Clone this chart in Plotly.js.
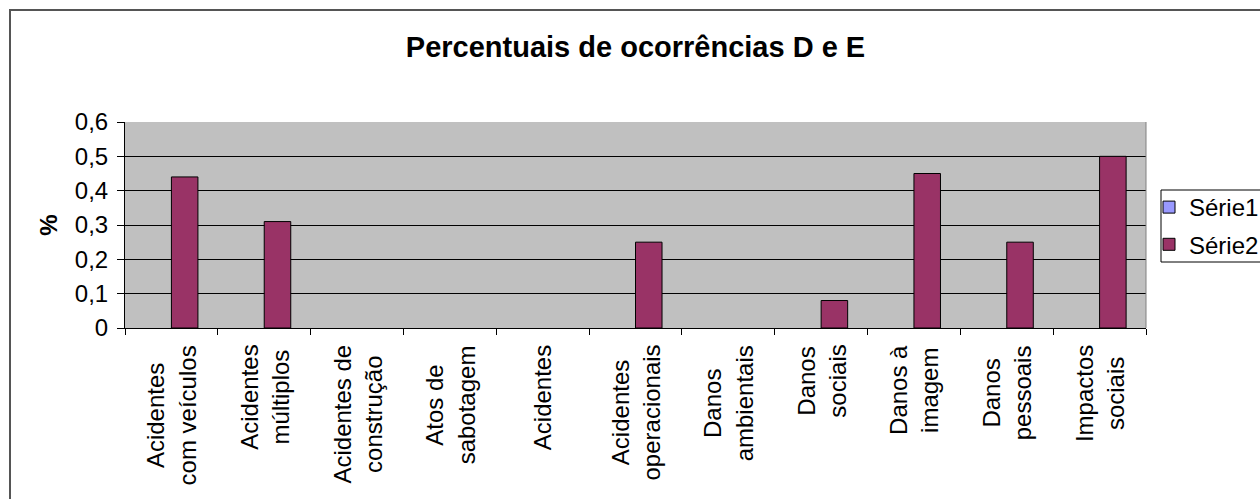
<!DOCTYPE html>
<html>
<head>
<meta charset="utf-8">
<script src="https://cdn.plot.ly/plotly-3.0.1.min.js"></script>
<style>
  html, body { margin: 0; padding: 0; background: #ffffff; }
  #chart { width: 1260px; height: 499px; }
</style>
</head>
<body>
<div id="chart"></div>
<script>
// ---- data ----
const categories = [
  "Acidentes com veículos",
  "Acidentes múltiplos",
  "Acidentes de construção",
  "Atos de sabotagem",
  "Acidentes",
  "Acidentes operacionais",
  "Danos ambientais",
  "Danos sociais",
  "Danos à imagem",
  "Danos pessoais",
  "Impactos sociais"
];
const categoryLabels = [
  "Acidentes<br>com veículos",
  "Acidentes<br>múltiplos",
  "Acidentes de<br>construção",
  "Atos de<br>sabotagem",
  "Acidentes",
  "Acidentes<br>operacionais",
  "Danos<br>ambientais",
  "Danos<br>sociais",
  "Danos à<br>imagem",
  "Danos<br>pessoais",
  "Impactos<br>sociais"
];
// Série1 has no values in the chart (blank cells)
const serie1 = [null, null, null, null, null, null, null, null, null, null, null];
const serie2 = [0.44, 0.31, 0, 0, 0, 0.25, 0, 0.08, 0.45, 0.25, 0.5];
const seriesNames = ["Série1", "Série2"];
const chartTitle = "Percentuais de ocorrências D e E";
const yAxisTitle = "%";

// ---- layout helpers (pixel -> paper) ----
const W = 1260, H = 499;
const M = { l: 125, r: 114, t: 122, b: 171, autoexpand: false };
const PW = W - M.l - M.r, PH = H - M.t - M.b;
const px = x => (x - M.l) / PW;
const py = y => (H - M.b - y) / PH;

const FONT = "Liberation Sans, Arial, sans-serif";
// outline only on bars that have a height (empty bars draw nothing, as in Excel)
const outline = vals => vals.map(v => (v > 0 ? 1 : 0));

const traces = [
  {
    type: "bar", name: seriesNames[0], x: categories, y: serie1,
    legendgroup: "s1",
    marker: { color: "#9999FF", line: { color: "#000000", width: 1 } },
    hoverinfo: "x+y"
  },
  {
    type: "bar", name: seriesNames[1], x: categories, y: serie2,
    legendgroup: "s2",
    marker: { color: "#993366", line: { color: "#000000", width: outline(serie2) } },
    hoverinfo: "x+y"
  }
];

const annotations = categories.map((c, i) => ({
  x: c, xref: "x",
  y: py(343), yref: "paper",
  xanchor: "center", yanchor: "top",
  text: categoryLabels[i],
  textangle: -90,
  align: "center",
  showarrow: false,
  font: { family: FONT, size: 24, color: "#000000" }
}));

const layout = {
  width: W, height: H,
  margin: M,
  paper_bgcolor: "#ffffff",
  plot_bgcolor: "#C0C0C0",
  separators: ",.",
  font: { family: FONT, size: 24, color: "#000000" },
  title: {
    text: "<b>" + chartTitle + "</b>",
    font: { family: FONT, size: 29, color: "#000000" },
    x: 0.5, xref: "paper", xanchor: "center",
    y: 1 - 47 / H, yref: "container", yanchor: "middle"
  },
  barmode: "group",
  bargap: 1.5 / 3.5,
  bargroupgap: 0,
  xaxis: {
    type: "category",
    categoryorder: "array", categoryarray: categories,
    showticklabels: false,
    tickson: "boundaries",
    ticks: "outside", ticklen: 6, tickcolor: "#000000", tickwidth: 1,
    showline: true, linecolor: "#000000", linewidth: 1,
    showgrid: false, zeroline: false,
    fixedrange: true
  },
  yaxis: {
    range: [0, 0.6], dtick: 0.1, tick0: 0,
    ticks: "outside", ticklen: 7, tickcolor: "#000000", tickwidth: 1,
    ticklabelstandoff: 4,
    tickfont: { family: FONT, size: 24, color: "#000000" },
    showline: true, linecolor: "#000000", linewidth: 1,
    showgrid: true, gridcolor: "#000000", gridwidth: 1,
    zeroline: false,
    title: {
      text: "<b>" + yAxisTitle + "</b>",
      font: { family: FONT, size: 24, color: "#000000" },
      standoff: 10
    },
    fixedrange: true
  },
  showlegend: true,
  legend: {
    x: px(1149), xanchor: "left",
    y: py(185), yanchor: "top",
    bgcolor: "rgba(0,0,0,0)",
    borderwidth: 0,
    traceorder: "grouped",
    tracegroupgap: 3,
    font: { family: FONT, size: 24, color: "#000000" }
  },
  annotations: annotations,
  shapes: [
    // chart frame
    { type: "rect", xref: "paper", yref: "paper",
      x0: px(10), x1: px(1300), y0: py(540), y1: py(10),
      line: { color: "#555555", width: 2 }, fillcolor: "rgba(0,0,0,0)", layer: "below" },
    // plot area right border
    { type: "line", xref: "paper", yref: "paper", x0: 1, x1: 1, y0: 0, y1: 1,
      line: { color: "#808080", width: 1 }, layer: "above" },
    // legend box
    { type: "rect", xref: "paper", yref: "paper",
      x0: px(1161), x1: px(1300), y0: py(262), y1: py(190),
      line: { color: "#000000", width: 1 }, fillcolor: "#ffffff", layer: "above" }
  ]
};

Plotly.newPlot("chart", traces, layout, { displayModeBar: false, staticPlot: true });
</script>
</body>
</html>
